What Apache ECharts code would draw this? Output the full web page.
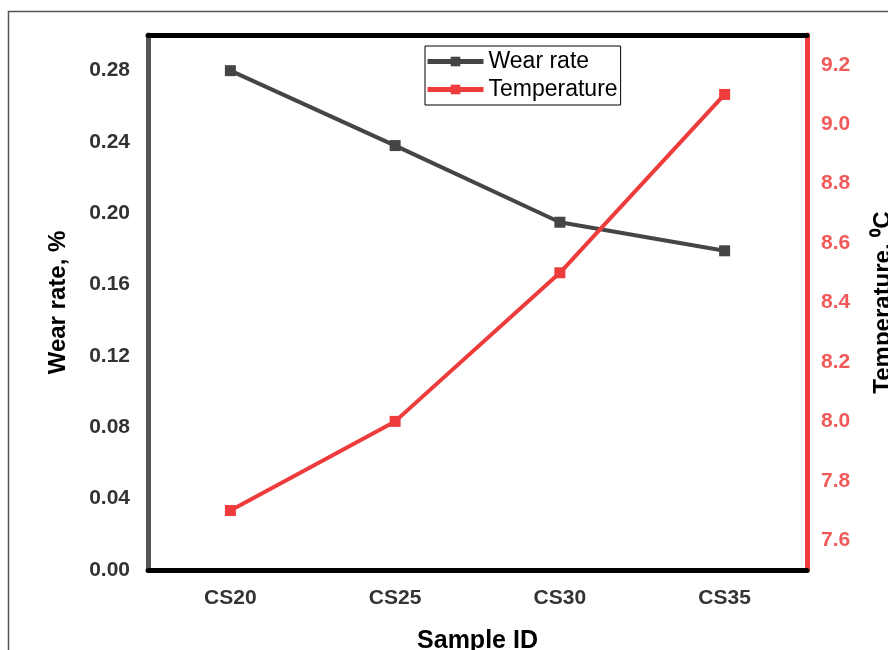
<!DOCTYPE html>
<html>
<head>
<meta charset="utf-8">
<script src="https://cdn.jsdelivr.net/npm/echarts@6/dist/echarts.min.js"></script>
<style>
  html, body { margin: 0; padding: 0; background: #fff; overflow: hidden; }
  #chart { width: 888px; height: 650px; }
</style>
</head>
<body>
<div id="chart"></div>
<script>
const categories = ['CS20', 'CS25', 'CS30', 'CS35'];
const wearRate = [0.280, 0.238, 0.195, 0.179];
const temperature = [7.7, 8.0, 8.5, 9.1];
const seriesNames = ['Wear rate', 'Temperature'];

const FONT = '"Liberation Sans", Arial, sans-serif';
const chart = echarts.init(document.getElementById('chart'), null, { renderer: 'canvas' });

chart.setOption({
  backgroundColor: '#fff',
  animation: false,
  textStyle: { fontFamily: FONT },
  graphic: [{
    type: 'rect',
    shape: { x: 8.5, y: 11.5, width: 1000, height: 1000 },
    style: { fill: 'none', stroke: '#555', lineWidth: 1.5 },
    silent: true
  }],
  grid: { left: 148, right: 81, top: 35, bottom: 80, containLabel: false, outerBoundsMode: 'none' },
  legend: {
    data: seriesNames,
    orient: 'vertical',
    left: 425,
    top: 46,
    padding: [4, 3, 4, 0],
    itemGap: 5,
    itemWidth: 56,
    itemHeight: 12,
    borderColor: '#000',
    borderWidth: 1,
    lineStyle: { width: 5 },
    textStyle: { fontFamily: FONT, fontSize: 23, color: '#000' }
  },
  xAxis: [{
    type: 'category',
    data: categories,
    position: 'bottom',
    name: 'Sample ID',
    nameLocation: 'middle',
    nameGap: 59,
    nameTextStyle: { fontFamily: FONT, fontSize: 25, fontWeight: 'bold', color: '#000' },
    axisLine: { show: true, lineStyle: { color: '#000', width: 5 } },
    axisTick: { show: false },
    axisLabel: { fontFamily: FONT, fontSize: 21, fontWeight: 'bold', color: '#333', margin: 18 },
    splitLine: { show: false }
  }, {
    type: 'category',
    data: categories,
    position: 'top',
    axisLine: { show: true, lineStyle: { color: '#000', width: 5 } },
    axisTick: { show: false },
    axisLabel: { show: false },
    splitLine: { show: false }
  }],
  yAxis: [{
    type: 'value',
    position: 'left',
    min: 0,
    max: 0.30,
    interval: 0.02,
    name: 'Wear rate, %',
    nameLocation: 'middle',
    nameRotate: 90,
    nameGap: 78,
    nameTextStyle: { fontFamily: FONT, fontSize: 24, fontWeight: 'bold', color: '#000' },
    axisLine: { show: true, lineStyle: { color: '#555', width: 5 } },
    axisTick: { show: false },
    splitLine: { show: false },
    axisLabel: {
      fontFamily: FONT, fontSize: 21, fontWeight: 'bold', color: '#333', margin: 18,
      formatter: v => (Math.round(v * 100) % 4 === 0 ? v.toFixed(2) : '')
    }
  }, {
    type: 'value',
    position: 'right',
    min: 7.5,
    max: 9.3,
    interval: 0.1,
    name: 'Temperature, \u2070C',
    nameLocation: 'middle',
    nameRotate: 90,
    nameGap: 64,
    nameTextStyle: { fontFamily: FONT, fontSize: 24, fontWeight: 'bold', color: '#000' },
    axisLine: { show: true, lineStyle: { color: '#ee3b3b', width: 5 } },
    axisTick: { show: false },
    splitLine: { show: false },
    axisLabel: {
      fontFamily: FONT, fontSize: 21, fontWeight: 'bold', color: '#f25a5a', margin: 14,
      formatter: v => (Math.round(v * 10) % 2 === 0 ? v.toFixed(1) : '')
    }
  }],
  series: [{
    name: seriesNames[0],
    type: 'line',
    xAxisIndex: 0,
    yAxisIndex: 0,
    data: wearRate,
    symbol: 'rect',
    symbolSize: 11,
    color: '#454545',
    lineStyle: { color: '#454545', width: 4 },
    itemStyle: { color: '#454545' }
  }, {
    name: seriesNames[1],
    type: 'line',
    xAxisIndex: 0,
    yAxisIndex: 1,
    data: temperature,
    symbol: 'rect',
    symbolSize: 11,
    color: '#ee3b3b',
    lineStyle: { color: '#ee3b3b', width: 4 },
    itemStyle: { color: '#ee3b3b' }
  }]
});
</script>
</body>
</html>
